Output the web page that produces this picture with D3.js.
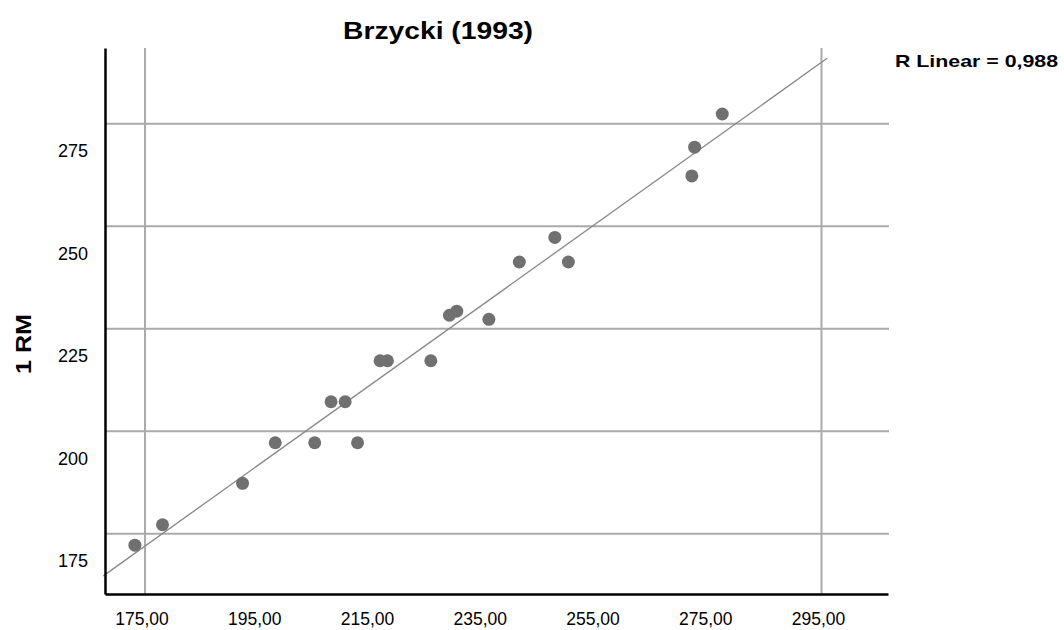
<!DOCTYPE html>
<html>
<head>
<meta charset="utf-8">
<script src="https://cdn.jsdelivr.net/npm/d3@7"></script>
<style>
  html, body { margin: 0; padding: 0; background: #fff; }
  svg { display: block; }
</style>
</head>
<body>
<svg id="chart" width="1064" height="630"></svg>
<script>
// ---- data ----
const predicted = [173.2, 178.1, 192.3, 198.1, 205.1, 212.7, 208.0, 210.5, 216.7, 218.0,
                   225.7, 229.0, 230.3, 236.0, 241.4, 247.7, 250.1, 272.0, 272.5, 277.4];
const oneRM     = [172.2, 177.2, 187.3, 197.2, 197.2, 197.2, 207.2, 207.2, 217.2, 217.2,
                   217.2, 228.3, 229.3, 227.3, 241.3, 247.3, 241.3, 262.3, 269.3, 277.4];
const xTicks = [175, 195, 215, 235, 255, 275, 295];
const xGrid  = [175, 295];
const yTicks = [175, 200, 225, 250, 275];
const xDomain = [167.9, 306.8];
const yDomain = [160.3, 293.5];
const fitExtent = [167.6, 296.0];
const titleText = "Brzycki (1993)";
const yTitle = "1 RM";
const rLabel = "R Linear = 0,988";

// ---- layout ----
const svg = d3.select("#chart");
const mLeft = 105, mRight = 888, mTop = 48, mBottom = 594;
const x = d3.scaleLinear().domain(xDomain).range([mLeft, mRight]);
const y = d3.scaleLinear().domain(yDomain).range([mBottom, mTop]);
const fmtX = v => d3.format(".2f")(v).replace(".", ",");

// gridlines
svg.append("g").selectAll("line").data(yTicks).join("line")
  .attr("x1", mLeft).attr("x2", mRight + 1)
  .attr("y1", d => y(d)).attr("y2", d => y(d))
  .attr("stroke", "#aaaaaa").attr("stroke-width", 2);
svg.append("g").selectAll("line").data(xGrid).join("line")
  .attr("x1", d => x(d)).attr("x2", d => x(d))
  .attr("y1", mTop).attr("y2", mBottom)
  .attr("stroke", "#aaaaaa").attr("stroke-width", 2);

// fit line (least squares from data)
const n = predicted.length;
const mx = d3.mean(predicted), my = d3.mean(oneRM);
let sxy = 0, sxx = 0;
for (let i = 0; i < n; i++) { sxy += (predicted[i]-mx)*(oneRM[i]-my); sxx += (predicted[i]-mx)**2; }
const slope = sxy / sxx, icpt = my - slope * mx;
svg.append("line")
  .attr("x1", x(fitExtent[0])).attr("y1", y(icpt + slope*fitExtent[0]))
  .attr("x2", x(fitExtent[1])).attr("y2", y(icpt + slope*fitExtent[1]))
  .attr("stroke", "#888888").attr("stroke-width", 1.3);

// points
svg.append("g").selectAll("circle").data(d3.range(n)).join("circle")
  .attr("cx", i => x(predicted[i])).attr("cy", i => y(oneRM[i]))
  .attr("r", 6.5).attr("fill", "#707070");

// axes
const xAxis = d3.axisBottom(x).tickValues(xTicks).tickFormat(fmtX).tickSize(0);
const gx = svg.append("g").attr("transform", `translate(0,${mBottom})`).call(xAxis);
gx.select(".domain").attr("stroke", "#000").attr("stroke-width", 2.5);
gx.selectAll("text").attr("font-family", "Liberation Sans, Arial, sans-serif")
  .attr("font-size", 17.5).attr("fill", "#000").attr("dy", null).attr("y", 31).attr("dx", -3.5);

const yAxis = d3.axisLeft(y).tickValues(yTicks).tickSize(0);
const gy = svg.append("g").attr("transform", `translate(${mLeft},0)`).call(yAxis);
gy.select(".domain").attr("stroke", "#000").attr("stroke-width", 2.5);
gy.selectAll("text").attr("font-family", "Liberation Sans Narrow, Liberation Sans, Arial, sans-serif")
  .attr("font-size", 18).attr("fill", "#000").attr("x", -17).attr("dy", "1.05em")
  .attr("transform", "translate(0,14)");

// titles
svg.append("text").attr("x", 438).attr("y", 39).attr("text-anchor", "middle")
  .attr("font-family", "Liberation Sans, Arial, sans-serif").attr("font-weight", "bold")
  .attr("font-size", 23).attr("textLength", 190).attr("lengthAdjust", "spacingAndGlyphs")
  .text(titleText);
svg.append("text").attr("x", 895).attr("y", 67)
  .attr("font-family", "Liberation Sans, Arial, sans-serif").attr("font-weight", "bold")
  .attr("font-size", 17).attr("textLength", 163).attr("lengthAdjust", "spacingAndGlyphs")
  .text(rLabel);
svg.append("text").attr("transform", "translate(31,344) rotate(-90)").attr("text-anchor", "middle")
  .attr("font-family", "Liberation Sans, Arial, sans-serif").attr("font-weight", "bold")
  .attr("font-size", 22).attr("textLength", 60).attr("lengthAdjust", "spacingAndGlyphs")
  .text(yTitle);
</script>
</body>
</html>
